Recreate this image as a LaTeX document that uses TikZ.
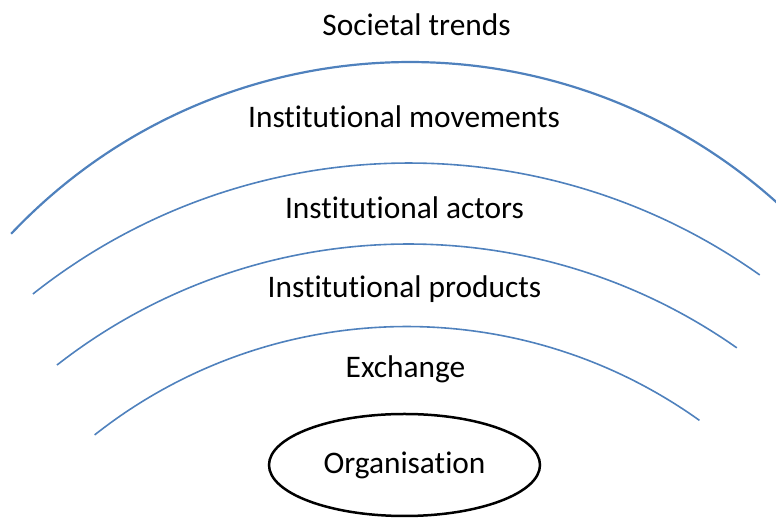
\documentclass[tikz,border=0pt]{standalone}
\usepackage{fontspec}
\setmainfont{Carlito}[Ligatures=NoCommon]
\usetikzlibrary{shapes.geometric}

\definecolor{arcblue}{RGB}{79,129,189}

\begin{document}
\begin{tikzpicture}[x=1bp, y=1bp, every node/.style={font=\fontsize{31.5}{38}\selectfont},
        layer/.style={anchor=base},
        ring/.style={draw=arcblue, line width=1.6bp}]
            \useasboundingbox (0,0) rectangle (776,519);

            \node[layer] (trends) at (416.5, 483) {Societal trends};
            \node[layer] (movements) at (404, 391) {Institutional movements};
            \node[layer] (actors) at (404.5, 300) {Institutional actors};
            \node[layer] (products) at (404.5, 221) {Institutional products};
            \node[layer] (exchange) at (405.5, 141) {Exchange};

            \draw[ring, line width=2.2bp] (410, -92) ++(136.6:549) arc[start angle=136.6, end angle=48.0, radius=549];
            \draw[ring] (409, -249.5) ++(128.4:605.5) arc[start angle=128.4, end angle=54.6, radius=605.5];
            \draw[ring] (408.5, -296) ++(128.0:571) arc[start angle=128.0, end angle=54.9, radius=571];
            \draw[ring] (406.7, -311) ++(128.3:503.5) arc[start angle=128.3, end angle=54.45, radius=503.5];

            \node[draw, ellipse, line width=2.5bp, minimum width=271bp, minimum height=102bp] (org) at (404.5, 54) {Organisation};

        \end{tikzpicture}
\end{document}
